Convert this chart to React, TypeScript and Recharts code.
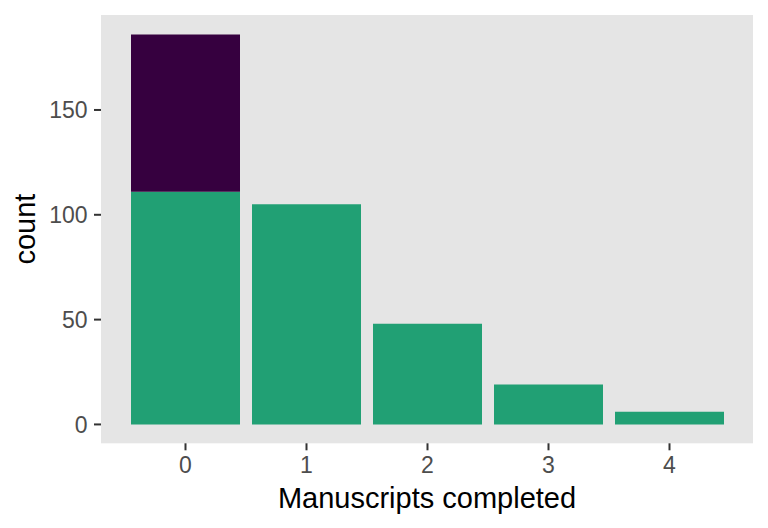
import React from 'react';
import { BarChart, Bar, XAxis, YAxis, CartesianGrid } from 'recharts';

// counts per manuscripts-completed bucket, split by group
const CATEGORIES = ['0', '1', '2', '3', '4'];
const GREEN_COUNTS = [111, 105, 48, 19, 6];
const PURPLE_COUNTS = [75, 0, 0, 0, 0];
const Y_TICKS = [0, 50, 100, 150];

const data = CATEGORIES.map((c, i) => ({
  completed: c,
  green: GREEN_COUNTS[i],
  purple: PURPLE_COUNTS[i],
}));

const FONT = '"Liberation Sans", Arial, Helvetica, sans-serif';

const XTitle = (props: any) => {
  const { viewBox } = props;
  const cx = viewBox.x + viewBox.width / 2;
  return (
    <text x={cx} y={viewBox.y + 64.4} textAnchor="middle" fontSize={29} fill="#000" fontFamily={FONT}>
      Manuscripts completed
    </text>
  );
};

const YTitle = (props: any) => {
  const { viewBox } = props;
  const cy = viewBox.y + viewBox.height / 2;
  const x = 35;
  return (
    <text
      x={x}
      y={cy}
      transform={`rotate(-90, ${x}, ${cy})`}
      textAnchor="middle"
      fontSize={29}
      fill="#000"
      fontFamily={FONT}
    >
      count
    </text>
  );
};

export default function App() {
  return (
    <div style={{ position: 'absolute', left: 0, top: 0, width: 768, height: 528, background: '#fff' }}>
      <BarChart
        width={768}
        height={528}
        data={data}
        margin={{ top: 15, right: 15, bottom: 0, left: 0 }}
        barCategoryGap={6}
      >
        <CartesianGrid horizontal={false} vertical={false} fill="#E5E5E5" stroke="none" />
        <XAxis
          dataKey="completed"
          height={84.7}
          padding={{ left: 24, right: 23 }}
          axisLine={false}
          tickSize={7}
          tickMargin={6}
          tickLine={{ stroke: '#333333', strokeWidth: 2 }}
          tick={{ fontSize: 23, fill: '#4D4D4D', fontFamily: FONT }}
          label={<XTitle />}
        />
        <YAxis
          width={101}
          type="number"
          domain={[-9.0, 195.3]}
          ticks={Y_TICKS}
          allowDataOverflow
          axisLine={false}
          tickSize={7}
          tickMargin={6.5}
          tickLine={{ stroke: '#333333', strokeWidth: 2 }}
          tick={{ fontSize: 23, fill: '#4D4D4D', fontFamily: FONT }}
          label={<YTitle />}
        />
        <Bar dataKey="green" stackId="a" fill="#21A074" isAnimationActive={false} />
        <Bar dataKey="purple" stackId="a" fill="#36003F" isAnimationActive={false} />
      </BarChart>
    </div>
  );
}
